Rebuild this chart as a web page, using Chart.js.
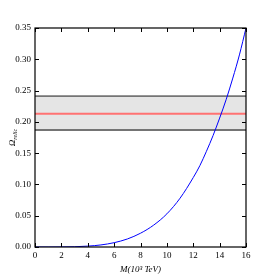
<!DOCTYPE html>
<html>
<head>
<meta charset="utf-8">
<script src="https://cdn.jsdelivr.net/npm/chart.js@4.4.0/dist/chart.umd.min.js"></script>
<style>
  html, body { margin: 0; padding: 0; background: #fff; }
  #wrap { width: 275px; height: 275px; }
</style>
</head>
<body>
<div id="wrap"><canvas id="chart"></canvas></div>
<script>
// values
const massValues = [0, 1, 2, 3, 4, 5, 6, 7, 8, 9, 10, 11, 12, 12.5, 13, 13.5, 14, 14.5, 15, 15.5, 16];
const relicValues = [0, 0, 0.0001, 0.0004, 0.0014, 0.0033, 0.0069, 0.0128, 0.022, 0.035, 0.053,
  0.078, 0.111, 0.130, 0.153, 0.178, 0.206, 0.236, 0.270, 0.307, 0.350];
const bandLow = 0.187;
const bandHigh = 0.241;
const bandCentre = 0.213;
const xRange = [0, 16];
const xTickStep = 2;
const yRange = [0, 0.35];
const yTickStep = 0.05;

const serif = '"Liberation Serif", "DejaVu Serif", serif';
const flat = (y) => xRange.map(x => ({ x, y }));

// inward ticks on all four sides plus the frame, matplotlib style
const frameTicks = {
  id: 'frameTicks',
  afterDatasetsDraw(chart) {
    const { ctx, chartArea: a, scales } = chart;
    const len = 4;
    ctx.save();
    ctx.strokeStyle = '#000';
    ctx.lineWidth = 1;
    ctx.beginPath();
    scales.x.ticks.forEach(t => {
      const px = Math.round(scales.x.getPixelForValue(t.value)) + 0.5;
      ctx.moveTo(px, a.bottom); ctx.lineTo(px, a.bottom - len);
      ctx.moveTo(px, a.top); ctx.lineTo(px, a.top + len);
    });
    scales.y.ticks.forEach(t => {
      const py = Math.round(scales.y.getPixelForValue(t.value)) + 0.5;
      ctx.moveTo(a.left, py); ctx.lineTo(a.left + len, py);
      ctx.moveTo(a.right, py); ctx.lineTo(a.right - len, py);
    });
    ctx.stroke();
    ctx.lineWidth = 1.2;
    ctx.strokeRect(a.left, a.top, a.right - a.left, a.bottom - a.top);

    // y title: Omega with subscript "relic"
    const cy = (a.top + a.bottom) / 2;
    ctx.translate(12, cy);
    ctx.rotate(-Math.PI / 2);
    ctx.fillStyle = '#000';
    ctx.textBaseline = 'alphabetic';
    ctx.font = 'italic 9px ' + serif;
    const wO = ctx.measureText('Ω').width;
    ctx.font = 'italic 6px ' + serif;
    const wS = ctx.measureText('relic').width;
    const x0 = -(wO + wS) / 2;
    ctx.font = 'italic 9px ' + serif;
    ctx.fillText('Ω', x0, 3);
    ctx.font = 'italic 6px ' + serif;
    ctx.fillText('relic', x0 + wO, 5);
    ctx.restore();
  }
};

new Chart(document.getElementById('chart'), {
  type: 'line',
  data: {
    datasets: [
      {
        // lower order is drawn on top
        order: 4,
        data: flat(bandHigh),
        borderColor: '#747474',
        borderWidth: 1.8,
        backgroundColor: '#e5e5e5',
        fill: '+1',
        pointRadius: 0,
      },
      {
        order: 3,
        data: flat(bandLow),
        borderColor: '#747474',
        borderWidth: 1.8,
        fill: false,
        pointRadius: 0,
      },
      {
        order: 2,
        data: flat(bandCentre),
        borderColor: '#ff7272',
        borderWidth: 2,
        fill: false,
        pointRadius: 0,
      },
      {
        order: 1,
        data: massValues.map((x, i) => ({ x, y: relicValues[i] })),
        borderColor: '#0000ff',
        borderWidth: 1,
        fill: false,
        cubicInterpolationMode: 'monotone',
        pointRadius: 0,
      },
    ],
  },
  options: {
    responsive: true,
    maintainAspectRatio: false,
    animation: false,
    events: [],
    layout: { padding: { left: 0, top: 28, right: 29, bottom: 0 } },
    plugins: {
      legend: { display: false },
      tooltip: { enabled: false },
    },
    scales: {
      x: {
        type: 'linear',
        min: xRange[0],
        max: xRange[1],
        grid: { display: false, drawTicks: false },
        border: { display: false },
        ticks: {
          stepSize: xTickStep,
          padding: 3,
          color: '#000',
          font: { family: serif, size: 9 },
        },
        title: {
          display: true,
          text: 'M(10³ TeV)',
          color: '#000',
          padding: { top: 0, bottom: 0 },
          font: { family: serif, size: 9, style: 'italic' },
        },
        afterFit: (s) => { s.height = 28; },
      },
      y: {
        min: yRange[0],
        max: yRange[1],
        grid: { display: false, drawTicks: false },
        border: { display: false },
        ticks: {
          stepSize: yTickStep,
          padding: 4,
          color: '#000',
          font: { family: serif, size: 9 },
          callback: (v) => v.toFixed(2),
        },
        afterFit: (s) => { s.width = 35; },
      },
    },
  },
  plugins: [frameTicks],
});
</script>
</body>
</html>
